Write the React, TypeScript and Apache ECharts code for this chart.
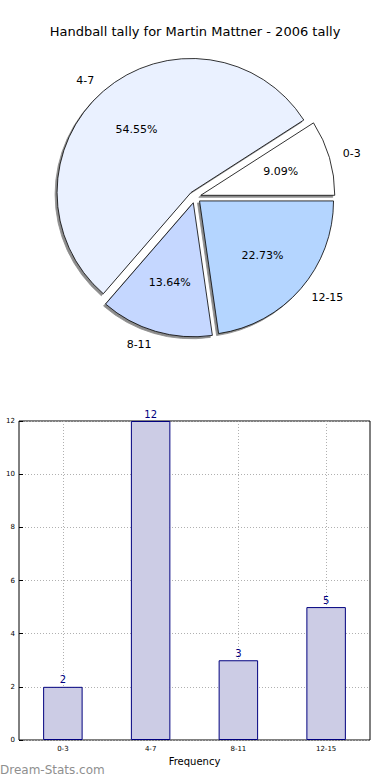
import React, { useEffect, useRef } from "react";
import * as echarts from "echarts";

const TITLE = "Handball tally for Martin Mattner - 2006 tally";
const categories = ["0-3", "4-7", "8-11", "12-15"];
const tallies = [2, 12, 3, 5];
const pieColors = ["#ffffff", "#eaf1ff", "#c5d7ff", "#b4d5ff"];
const yTicks = { min: 0, max: 12, interval: 2 };
const X_NAME = "Frequency";
const Y_NAME = "Distribution";
const WATERMARK = "Dream-Stats.com";

const FONT = "DejaVu Sans, sans-serif";

export default function App() {
  const ref = useRef<HTMLDivElement>(null);
  useEffect(() => {
    document.body.style.margin = "0";
    if (!ref.current) return;
    const chart = echarts.init(ref.current, undefined, { renderer: "svg" });
    const total = tallies.reduce((a, b) => a + b, 0);
    const R = 134;
    const center = [195, 197];
    const OFF = 6;

    const mainData = categories.map((c, i) => ({
      name: c,
      value: tallies[i],
      selected: true,
      itemStyle: { color: pieColors[i] },
    }));
    const labelData = categories.map((c, i) => ({
      name: c,
      value: tallies[i],
      selected: true,
    }));

    chart.setOption({
      animation: false,
      textStyle: { fontFamily: FONT },
      title: {
        text: TITLE,
        left: "center",
        top: 20,
        textStyle: { fontFamily: FONT, fontSize: 13, fontWeight: "normal", color: "#000" },
      },
      grid: {
        left: 19,
        right: 20,
        top: 421,
        bottom: 40,
        containLabel: false,
        outerBoundsMode: "none",
        show: true,
        borderColor: "#000",
        borderWidth: 1,
        backgroundColor: "transparent",
      },
      xAxis: {
        type: "category",
        data: categories,
        name: X_NAME,
        nameLocation: "middle",
        nameGap: 16,
        nameTextStyle: { fontFamily: FONT, fontSize: 10, color: "#000" },
        axisLine: { show: false },
        axisTick: { show: true, inside: true, length: 4, alignWithLabel: true, lineStyle: { color: "#000" } },
        axisLabel: { fontFamily: FONT, fontSize: 7, color: "#000", margin: 5 },
        splitLine: {
          show: true,
          alignWithLabel: true,
          lineStyle: { color: "#b0b0b0", type: [1, 2], width: 1 },
        },
      },
      yAxis: {
        type: "value",
        min: yTicks.min,
        max: yTicks.max,
        interval: yTicks.interval,
        name: Y_NAME,
        nameLocation: "middle",
        nameGap: 20,
        nameRotate: 90,
        nameTextStyle: { fontFamily: FONT, fontSize: 10, color: "#000" },
        axisLine: { show: false },
        axisTick: { show: true, inside: true, length: 4, lineStyle: { color: "#000" } },
        axisLabel: { fontFamily: FONT, fontSize: 7, color: "#000", margin: 4 },
        splitLine: { show: true, lineStyle: { color: "#b0b0b0", type: [1, 2], width: 1 } },
      },
      graphic: [
        {
          type: "text",
          left: 0,
          top: 764,
          style: { text: WATERMARK, fontFamily: FONT, fontSize: 12, fill: "#8f8f8f" },
        },
      ],
      series: [
        {
          type: "bar",
          data: tallies,
          barWidth: "45%",
          itemStyle: { color: "#ccccE5", borderColor: "#00007f", borderWidth: 1 },
          label: {
            show: true,
            position: "top",
            distance: 2,
            fontFamily: FONT,
            fontSize: 10,
            color: "#00007f",
          },
          z: 3,
        },
        {
          type: "pie",
          center,
          radius: [0, R],
          startAngle: 0,
          clockwise: false,
          selectedMode: "multiple",
          selectedOffset: OFF,
          avoidLabelOverlap: false,
          emphasis: { disabled: true },
          itemStyle: {
            borderColor: "#000",
            borderWidth: 0.8,
            shadowColor: "rgba(0,0,0,0.45)",
            shadowOffsetX: -2,
            shadowOffsetY: 2,
            shadowBlur: 1,
          },
          label: {
            show: true,
            position: "outside",
            formatter: "{b}",
            fontFamily: FONT,
            fontSize: 11,
            color: "#000",
            distanceToLabelLine: 0,
          },
          labelLine: { show: false, length: 14, length2: 0 },
          data: mainData,
          z: 2,
        },
        {
          type: "pie",
          center,
          radius: [R * 0.5, R * 0.7],
          startAngle: 0,
          clockwise: false,
          selectedMode: "multiple",
          selectedOffset: OFF,
          silent: true,
          emphasis: { disabled: true },
          itemStyle: { color: "rgba(0,0,0,0)", borderWidth: 0 },
          label: {
            show: true,
            position: "inside",
            formatter: (p: any) => ((p.value / total) * 100).toFixed(2) + "%",
            fontFamily: FONT,
            fontSize: 11,
            color: "#000",
          },
          labelLine: { show: false },
          data: labelData,
          z: 4,
        },
      ],
    });
    return () => chart.dispose();
  }, []);
  return <div ref={ref} style={{ width: 390, height: 780 }} />;
}
